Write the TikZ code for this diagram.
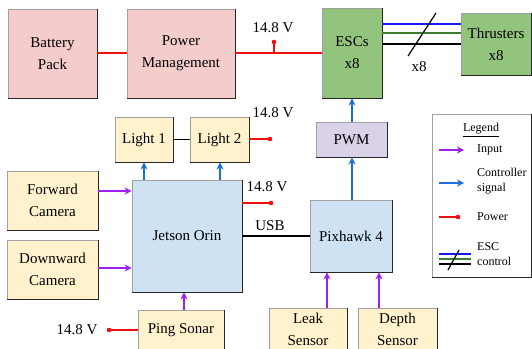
\documentclass[tikz,border=0pt]{standalone}
\usepackage{fontspec}
\setmainfont{Liberation Serif}
\usetikzlibrary{arrows.meta}
\definecolor{pinkfill}{HTML}{F4CCCC}
\definecolor{greenfill}{HTML}{93C47D}
\definecolor{beigefill}{HTML}{FFF2CC}
\definecolor{bluefill}{HTML}{CFE2F3}
\definecolor{lavfill}{HTML}{D9D2E9}
\definecolor{inpurple}{HTML}{A020F0}
\definecolor{ctlblue}{HTML}{1C6FDB}
\definecolor{pwred}{HTML}{F01010}
\definecolor{escblue}{HTML}{1818F0}
\definecolor{escgreen}{HTML}{3E7E2E}
\definecolor{bordergray}{HTML}{A0A0A0}
\begin{document}
\begin{tikzpicture}[x=1pt,y=-1pt,
  blk/.style={draw=bordergray, line width=0.9pt, inner sep=0pt, align=center,
    font=\fontsize{15}{22}\selectfont},
  edge/.style={draw=black!85, line width=1pt},
  inarrow/.style={draw=inpurple, line width=1.4pt, -{Stealth[length=7pt,width=7pt]}},
  ctlarrow/.style={draw=ctlblue, line width=1.4pt, -{Stealth[length=7pt,width=7pt]}},
  pwline/.style={draw=pwred, line width=1.2pt},
  pwdot/.style={fill=pwred},
  dataline/.style={draw=black, line width=1.2pt},
  lbl/.style={font=\fontsize{15}{18}\selectfont, inner sep=0pt},
  leg/.style={font=\fontsize{12}{15.5}\selectfont, inner sep=0pt, align=left, anchor=west}
]
\useasboundingbox (0,0) rectangle (532,348);
\clip (0,0) rectangle (532,348);

% boxes
\node[blk, fill=pinkfill, minimum width=89pt, minimum height=89pt] (bat) at (52.5,53.5) {Battery\\Pack};
\node[blk, fill=pinkfill, minimum width=108pt, minimum height=89pt] (pm) at (181,53.5) {Power\\Management};
\node[blk, fill=greenfill, minimum width=60pt, minimum height=90pt] (esc) at (352,53) {ESCs\\x8};
\node[blk, fill=greenfill, minimum width=70pt, minimum height=62pt] (thr) at (496,44) {Thrusters\\x8};
\node[blk, fill=beigefill, minimum width=58pt, minimum height=45pt] (l1) at (144,139.5) {Light 1};
\node[blk, fill=beigefill, minimum width=59pt, minimum height=45pt] (l2) at (219.5,139.5) {Light 2};
\node[blk, fill=bluefill, minimum width=110pt, minimum height=112pt] (jet) at (187,236) {Jetson Orin};
\node[blk, fill=beigefill, minimum width=91pt, minimum height=59pt] (fc) at (52.5,200.5) {Forward\\Camera};
\node[blk, fill=beigefill, minimum width=91pt, minimum height=59pt] (dc) at (52.5,269.5) {Downward\\Camera};
\node[blk, fill=beigefill, minimum width=86pt, minimum height=40pt] (ps) at (181,330) {Ping Sonar};
\node[blk, fill=lavfill, minimum width=71pt, minimum height=35pt] (pwm) at (351.5,139.5) {PWM};
\node[blk, fill=bluefill, minimum width=82pt, minimum height=72pt] (px) at (351,236) {Pixhawk 4};
\node[blk, fill=beigefill, minimum width=78pt, minimum height=42pt] (leak) at (308,329) {Leak\\Sensor};
\node[blk, fill=beigefill, minimum width=79pt, minimum height=42pt] (dep) at (397.5,329) {Depth\\Sensor};
\node[draw=bordergray, line width=0.9pt, fill=white, inner sep=0pt, minimum width=99pt, minimum height=163pt] (legbox) at (481.5,195.5) {};

\foreach \n in {bat,pm,esc,thr,l1,l2,jet,fc,dc,ps,pwm,px,leak,dep,legbox}
  \draw[edge] (\n.north east) -- (\n.south east) -- (\n.south west);

% power connections
\draw[pwline] (bat.east |- 0,53) -- (pm.west |- 0,53);
\draw[pwline] (pm.east |- 0,53) -- (esc.west |- 0,53);
\coordinate (pj) at (274,53);
\coordinate (pjd) at (274,42);
\draw[pwline] (pj) -- (pjd);
\fill[pwdot] (pjd) circle (2.3pt);
\node[lbl] (v1) at (273,28) {14.8 V};

\coordinate (l2d) at (270,139);
\draw[pwline] (l2.east |- l2d) -- (l2d);
\fill[pwdot] (l2d) circle (2.3pt);
\node[lbl] (v2) at (273,113) {14.8 V};

\coordinate (jd) at (271,203);
\draw[pwline] (jet.east |- jd) -- (jd);
\fill[pwdot] (jd) circle (2.3pt);
\node[lbl] (v3) at (267,187) {14.8 V};

\coordinate (psd) at (109,330);
\draw[pwline] (ps.west |- psd) -- (psd);
\fill[pwdot] (psd) circle (2.3pt);
\node[lbl] (v4) at (77,330) {14.8 V};

% ESC to thrusters
\draw[draw=escblue, line width=1.6pt] (esc.east |- 0,24) -- (thr.west |- 0,24);
\draw[draw=escgreen, line width=1.6pt] (esc.east |- 0,33) -- (thr.west |- 0,33);
\draw[draw=black, line width=1.6pt] (esc.east |- 0,44) -- (thr.west |- 0,44);
\coordinate (s1) at (408,56);
\coordinate (s2) at (436,13);
\draw[black, line width=1.2pt] (s1) -- (s2);
\node[lbl] (x8) at (419,67) {x8};

% data lines
\draw[dataline] (l1.east) -- (l2.west);
\draw[dataline] (jet.east |- 0,236) -- (px.west |- 0,236);
\node[lbl] (usb) at (270,226) {USB};

% control arrows
\draw[ctlarrow] (jet.north -| l1) -- (l1.south);
\draw[ctlarrow] (jet.north -| 220,0) -- (l2.south -| 220,0);
\draw[ctlarrow] (px.north -| 352,0) -- (pwm.south -| 352,0);
\draw[ctlarrow] (pwm.north -| 352,0) -- (esc.south -| 352,0);

% input arrows
\draw[inarrow] (fc.east |- 0,191) -- (jet.west |- 0,191);
\draw[inarrow] (dc.east |- 0,268) -- (jet.west |- 0,268);
\draw[inarrow] (ps.north -| 184,0) -- (jet.south -| 184,0);
\draw[inarrow] (leak.north -| 327,0) -- (px.south -| 327,0);
\draw[inarrow] (dep.north -| 379,0) -- (px.south -| 379,0);

% legend
\node[font=\fontsize{12}{14}\selectfont, inner sep=0pt] (legt) at (481,130) {\underline{Legend}};
\coordinate (la1) at (439,150); \coordinate (la2) at (464,150);
\draw[inarrow] (la1) -- (la2);
\node[leg] (lt1) at (477,150) {Input};
\coordinate (lb1) at (439,183); \coordinate (lb2) at (464,183);
\draw[ctlarrow] (lb1) -- (lb2);
\node[leg] (lt2) at (477,181) {Controller\\signal};
\coordinate (lc1) at (439,217); \coordinate (lc2) at (458,217);
\draw[pwline] (lc1) -- (lc2);
\fill[pwdot] (lc2) circle (2.3pt);
\node[leg] (lt3) at (477,217) {Power};
\coordinate (ld1) at (439,254); \coordinate (ld2) at (471,254);
\coordinate (ld3) at (439,259); \coordinate (ld4) at (471,259);
\coordinate (ld5) at (439,264); \coordinate (ld6) at (471,264);
\draw[draw=escblue, line width=1.6pt] (ld1) -- (ld2);
\draw[draw=escgreen, line width=1.6pt] (ld3) -- (ld4);
\draw[draw=black, line width=1.6pt] (ld5) -- (ld6);
\coordinate (ls1) at (448,270); \coordinate (ls2) at (459,250);
\draw[black, line width=1.2pt] (ls1) -- (ls2);
\node[leg] (lt4) at (477,254) {ESC\\control};
\end{tikzpicture}
\end{document}
